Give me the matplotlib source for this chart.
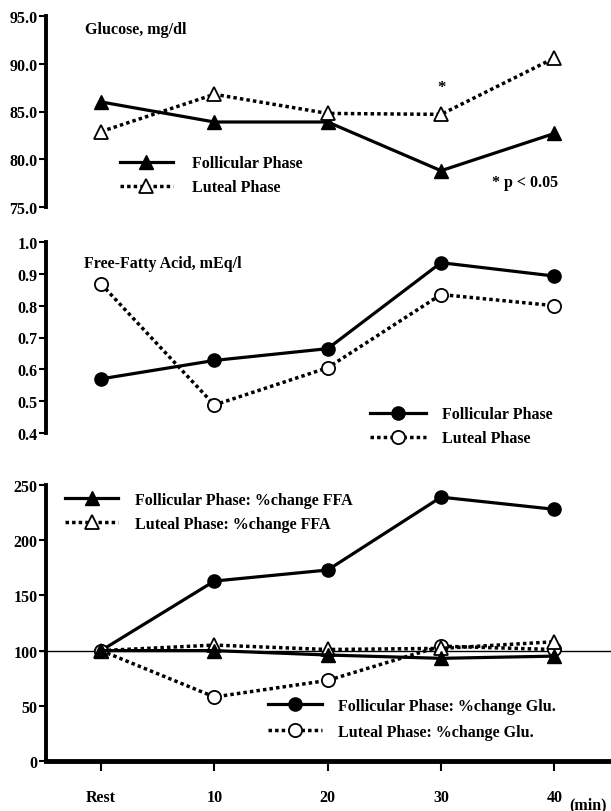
import matplotlib
matplotlib.use("Agg")
import matplotlib.pyplot as plt

plt.rcParams['font.family'] = ['Liberation Serif', 'DejaVu Serif']
plt.rcParams['font.weight'] = 'bold'

x_labels = ["Rest", "10", "20", "30", "40"]
x = list(range(len(x_labels)))

glu_foll = [86.0, 83.9, 83.9, 78.8, 82.7]
glu_lut = [82.9, 86.8, 84.8, 84.7, 90.6]

ffa_foll = [0.57, 0.628, 0.665, 0.935, 0.893]
ffa_lut = [0.868, 0.488, 0.605, 0.835, 0.80]

pct_circ_solid = [100, 163, 173, 239, 228]
pct_circ_dot = [100, 58, 73, 104, 101]
pct_tri_solid = [100, 100, 96, 93, 95]
pct_tri_dot = [100, 105, 101, 102, 108]

FS = 11.5
W, H = 611, 812
fig = plt.figure(figsize=(W / 100, H / 100), dpi=100)

def ax_at(left_px, top_px, right_px, bottom_px):
    return fig.add_axes([left_px / W, 1 - bottom_px / H,
                         (right_px - left_px) / W, (bottom_px - top_px) / H])

XL = (-0.486, 4.5)
solid = dict(color='black', linestyle='-', linewidth=2.3)
dotted = dict(color='black', linestyle=(0, (1, 0.9)), linewidth=2.5)
msz = 9.5

def style(ax, ylim, yticks, fmt):
    ax.set_xlim(*XL)
    ax.set_ylim(*ylim)
    ax.set_yticks(yticks)
    ax.set_yticklabels([fmt.format(v) for v in yticks], fontsize=FS, fontweight='bold')
    for s in ['top', 'right', 'bottom']:
        ax.spines[s].set_visible(False)
    ax.spines['left'].set_linewidth(2.8)
    ax.tick_params(axis='y', direction='out', length=5, width=1.5, pad=1)
    ax.set_xticks([])
    ax.patch.set_alpha(0)

legkw = dict(frameon=False, borderpad=0, borderaxespad=0,
             prop={'size': FS, 'weight': 'bold'})

# ---- Panel 1: glucose
ax1 = ax_at(46, 17, 611, 208)
l1, = ax1.plot(x, glu_foll, marker='^', markersize=msz, markerfacecolor='black',
               markeredgecolor='black', **solid)
l2, = ax1.plot(x, glu_lut, marker='^', markersize=msz, markerfacecolor='white',
               markeredgecolor='black', markeredgewidth=1.3, **dotted)
style(ax1, (75, 95), [75, 80, 85, 90, 95], "{:.1f}")
ax1.text(0.069, 0.975, "Glucose, mg/dl", transform=ax1.transAxes, fontsize=FS,
         fontweight='bold', va='top')
ax1.text(3, 87.6, "*", ha='center', va='center', fontsize=12, fontweight='bold')
ax1.text(0.79, 0.13, "* p < 0.05", transform=ax1.transAxes, fontsize=FS,
         fontweight='bold', va='center')
ax1.legend([l1, l2], ["Follicular Phase", "Luteal Phase"], loc='upper left',
           bbox_to_anchor=(0.131, 0.27), handlelength=3.3, handletextpad=1.2,
           labelspacing=0.5, **legkw)

# ---- Panel 2: FFA
ax2 = ax_at(46, 243, 611, 434)
m1, = ax2.plot(x, ffa_foll, marker='o', markersize=msz, markerfacecolor='black',
               markeredgecolor='black', **solid)
m2, = ax2.plot(x, ffa_lut, marker='o', markersize=msz, markerfacecolor='white',
               markeredgecolor='black', markeredgewidth=1.3, **dotted)
style(ax2, (0.4, 1.0), [0.4, 0.5, 0.6, 0.7, 0.8, 0.9, 1.0], "{:.1f}")
ax2.text(0.067, 0.93, "Free-Fatty Acid, mEq/l", transform=ax2.transAxes, fontsize=FS,
         fontweight='bold', va='top')
ax2.legend([m1, m2], ["Follicular Phase", "Luteal Phase"], loc='upper left',
           bbox_to_anchor=(0.573, 0.14), handlelength=3.5, handletextpad=1.0,
           labelspacing=0.5, **legkw)

# ---- Panel 3: % change
ax3 = ax_at(46, 486, 611, 762)
ax3.axhline(100, xmin=-0.01, xmax=1.0, color='black', linewidth=1.0, clip_on=False)
n1, = ax3.plot(x, pct_circ_solid, marker='o', markersize=msz, markerfacecolor='black',
               markeredgecolor='black', **solid)
n2, = ax3.plot(x, pct_circ_dot, marker='o', markersize=msz, markerfacecolor='white',
               markeredgecolor='black', markeredgewidth=1.3, **dotted)
t2, = ax3.plot(x, pct_tri_dot, marker='^', markersize=msz, markerfacecolor='white',
               markeredgecolor='black', markeredgewidth=1.3, **dotted)
t1, = ax3.plot(x, pct_tri_solid, marker='^', markersize=msz, markerfacecolor='black',
               markeredgecolor='black', **solid)
style(ax3, (0, 250), [0, 50, 100, 150, 200, 250], "{:d}")
ax3.spines['bottom'].set_visible(True)
ax3.spines['bottom'].set_linewidth(3.5)
ax3.set_xticks(x)
ax3.set_xticklabels(x_labels, fontsize=FS, fontweight='bold')
ax3.tick_params(axis='x', direction='out', length=7, width=1.5, pad=13)
ax3.annotate("(min)", xy=(4.0, 0), xycoords='data', xytext=(11, -31),
             textcoords='offset points', fontsize=FS, fontweight='bold',
             ha='left', va='center')
leg_a = ax3.legend([t1, t2], ["Follicular Phase: %change FFA", "Luteal Phase: %change FFA"],
                   loc='upper left', bbox_to_anchor=(0.034, 0.975), handlelength=3.3,
                   handletextpad=1.05, labelspacing=0.5, **legkw)
ax3.add_artist(leg_a)
ax3.legend([n1, n2], ["Follicular Phase: %change Glu.", "Luteal Phase: %change Glu."],
           loc='upper left', bbox_to_anchor=(0.393, 0.228), handlelength=3.4,
           handletextpad=1.0, labelspacing=0.62, **legkw)

fig.savefig("out.png", dpi=100)
